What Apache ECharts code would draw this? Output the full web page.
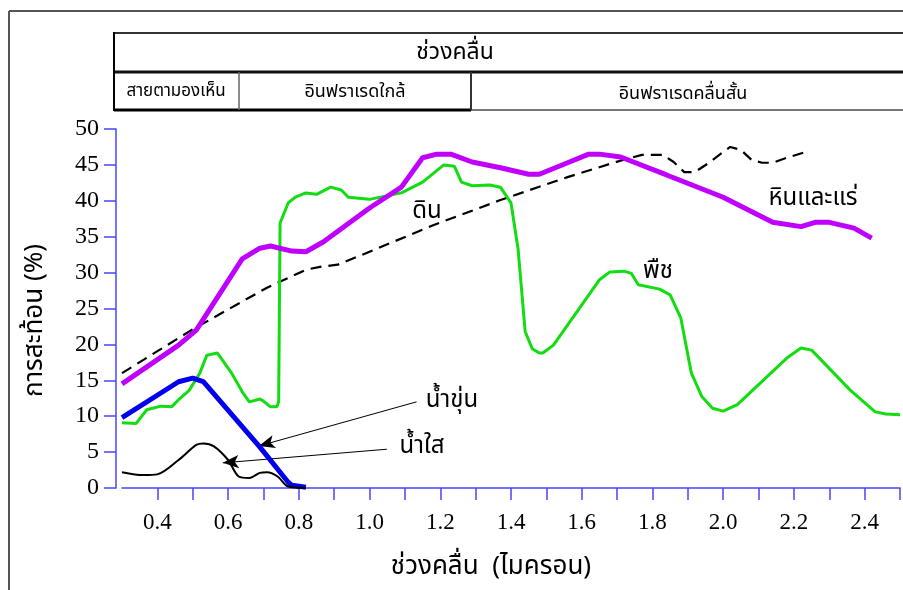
<!DOCTYPE html>
<html>
<head>
<meta charset="utf-8">
<script src="https://cdn.jsdelivr.net/npm/echarts@6/dist/echarts.min.js"></script>
<style>
  html, body { margin: 0; padding: 0; background: #fff; }
  #main { width: 903px; height: 590px; }
</style>
</head>
<body>
<div id="main"></div>
<script>
// ค่าสะท้อน (%) ตามช่วงคลื่น (ไมครอน)
var rockX = [0.30, 0.46, 0.51, 0.64, 0.69, 0.72, 0.78, 0.82, 0.87, 1.00, 1.09, 1.15, 1.19, 1.23, 1.29, 1.37, 1.45, 1.48, 1.56, 1.62, 1.65, 1.71, 1.84, 2.00, 2.14, 2.22, 2.26, 2.30, 2.37, 2.42];
var rockY = [14.5, 19.9, 22.0, 31.9, 33.4, 33.7, 33.0, 32.9, 34.3, 39.0, 41.9, 46.0, 46.5, 46.5, 45.4, 44.6, 43.7, 43.7, 45.3, 46.5, 46.5, 46.1, 43.6, 40.5, 37.0, 36.4, 37.0, 37.0, 36.2, 34.8];

var vegX = [0.30, 0.34, 0.37, 0.41, 0.44, 0.46, 0.49, 0.52, 0.54, 0.57, 0.61, 0.64, 0.66, 0.69, 0.70, 0.72, 0.738, 0.743, 0.747, 0.77, 0.79, 0.82, 0.85, 0.89, 0.92, 0.94, 1.00, 1.09, 1.15, 1.21, 1.24, 1.26, 1.29, 1.34, 1.37, 1.40, 1.42, 1.44, 1.46, 1.48, 1.49, 1.52, 1.65, 1.68, 1.72, 1.74, 1.76, 1.82, 1.85, 1.88, 1.91, 1.94, 1.97, 2.00, 2.04, 2.18, 2.22, 2.25, 2.36, 2.43, 2.46, 2.50];
var vegY = [9.1, 9.0, 10.9, 11.4, 11.3, 12.3, 13.6, 16.0, 18.5, 18.8, 16.0, 13.4, 12.0, 12.4, 12.1, 11.3, 11.3, 12.0, 36.9, 39.7, 40.5, 41.1, 40.9, 41.9, 41.5, 40.5, 40.2, 41.1, 42.6, 45.0, 44.8, 42.6, 42.1, 42.2, 41.9, 39.7, 33.3, 21.8, 19.4, 18.8, 18.8, 19.9, 29.0, 30.1, 30.2, 29.9, 28.3, 27.7, 26.9, 23.7, 16.0, 12.7, 11.1, 10.7, 11.6, 18.1, 19.5, 19.2, 13.6, 10.6, 10.3, 10.2];

var soilX = [0.30, 0.50, 0.71, 0.82, 0.86, 0.91, 0.99, 1.18, 1.37, 1.56, 1.71, 1.77, 1.83, 1.86, 1.89, 1.92, 1.96, 2.00, 2.02, 2.05, 2.08, 2.11, 2.14, 2.18, 2.24];
var soilY = [16.0, 22.1, 27.9, 30.4, 30.8, 31.1, 32.7, 36.6, 40.1, 43.3, 45.6, 46.4, 46.4, 45.4, 44.0, 44.0, 45.3, 46.8, 47.5, 47.1, 45.7, 45.3, 45.3, 46.0, 46.9];

var turbidX = [0.30, 0.46, 0.50, 0.53, 0.69, 0.77, 0.78, 0.82];
var turbidY = [9.8, 14.8, 15.3, 14.8, 5.7, 0.8, 0.4, 0.1];

var clearX = [0.30, 0.36, 0.40, 0.46, 0.51, 0.53, 0.56, 0.60, 0.63, 0.66, 0.69, 0.71, 0.74, 0.77, 0.82];
var clearY = [2.2, 1.8, 1.9, 3.9, 6.0, 6.2, 5.8, 3.9, 1.6, 1.4, 2.1, 2.2, 1.6, 0.2, 0.0];

var bandTitle = 'ช่วงคลื่น';
var bandNames = ['สายตามองเห็น', 'อินฟราเรดใกล้', 'อินฟราเรดคลื่นสั้น'];

function pairs(xs, ys) {
  var out = [];
  for (var i = 0; i < xs.length; i++) out.push([xs[i], ys[i]]);
  return out;
}

var thai = '"Noto Sans Thai", "Noto Sans", "DejaVu Sans", sans-serif';
var serif = '"Liberation Serif", "DejaVu Serif", serif';
var axisBlue = '#4646ff';

var chart = echarts.init(document.getElementById('main'));

var option = {
  backgroundColor: '#ffffff',
  animation: false,
  grid: { left: 122, right: 2, top: 129, bottom: 102 },
  xAxis: {
    type: 'value',
    min: 0.3,
    max: 2.5,
    interval: 0.1,
    offset: 13,
    name: 'ช่วงคลื่น  (ไมครอน)',
    nameLocation: 'middle',
    nameGap: 55,
    nameTextStyle: { fontFamily: thai, fontSize: 26, color: '#000', padding: [0, 40, 0, 0] },
    axisLine: { lineStyle: { color: axisBlue, width: 1.5 } },
    axisTick: { length: 12, lineStyle: { color: axisBlue, width: 1.5 } },
    splitLine: { show: false },
    axisLabel: {
      margin: 10,
      color: '#000',
      fontFamily: serif,
      fontSize: 23,
      showMinLabel: false,
      formatter: function (v) {
        var t = Math.round(v * 10);
        return (t % 2 === 0 && t < 25) ? (t / 10).toFixed(1) : '';
      }
    }
  },
  yAxis: {
    type: 'value',
    min: 0,
    max: 50,
    interval: 5,
    offset: 6,
    name: 'การสะท้อน (%)',
    nameLocation: 'middle',
    nameGap: 66,
    nameTextStyle: { fontFamily: thai, fontSize: 26, color: '#000', padding: [0, 24, 0, 0] },
    axisLine: { show: true, lineStyle: { color: axisBlue, width: 1.5 } },
    axisTick: { show: true, length: 12, lineStyle: { color: axisBlue, width: 1.5 } },
    splitLine: { show: false },
    axisLabel: { margin: 17, color: '#000', fontFamily: serif, fontSize: 24 }
  },
  series: [
    {
      name: 'ดิน',
      type: 'line',
      data: pairs(soilX, soilY),
      showSymbol: false,
      lineStyle: { color: '#000', width: 2.2, type: [11, 7] },
      z: 3
    },
    {
      name: 'พืช',
      type: 'line',
      data: pairs(vegX, vegY),
      showSymbol: false,
      lineStyle: { color: '#11dd11', width: 3 },
      z: 4
    },
    {
      name: 'หินและแร่',
      type: 'line',
      data: pairs(rockX, rockY),
      showSymbol: false,
      lineStyle: { color: '#c000ff', width: 5 },
      z: 5
    },
    {
      name: 'น้ำขุ่น',
      type: 'line',
      data: pairs(turbidX, turbidY),
      showSymbol: false,
      lineStyle: { color: '#0000ee', width: 5 },
      z: 6,
      markLine: {
        silent: true,
        symbol: ['none', 'arrow'],
        symbolSize: [10, 16],
        label: { show: false },
        lineStyle: { color: '#000', width: 1, type: 'solid' },
        data: [
          [{ coord: [1.133, 12.0] }, { coord: [0.687, 5.85] }],
          [{ coord: [1.049, 5.4] }, { coord: [0.585, 3.5] }]
        ]
      }
    },
    {
      name: 'น้ำใส',
      type: 'line',
      data: pairs(clearX, clearY),
      showSymbol: false,
      smooth: 0.3,
      lineStyle: { color: '#000', width: 2 },
      z: 7
    }
  ],
  graphic: [
    // กรอบนอก
    { type: 'line', shape: { x1: 9, y1: 11, x2: 9, y2: 590 }, style: { stroke: '#555', lineWidth: 2 } },
    { type: 'line', shape: { x1: 9, y1: 11, x2: 903, y2: 11 }, style: { stroke: '#555', lineWidth: 2 } },
    // ตารางช่วงคลื่น
    { type: 'line', shape: { x1: 114, y1: 33, x2: 903, y2: 33 }, style: { stroke: '#333', lineWidth: 2 } },
    { type: 'line', shape: { x1: 114, y1: 72, x2: 903, y2: 72 }, style: { stroke: '#111', lineWidth: 3 } },
    { type: 'line', shape: { x1: 114, y1: 110, x2: 471, y2: 110 }, style: { stroke: '#000', lineWidth: 3 } },
    { type: 'line', shape: { x1: 471, y1: 110, x2: 903, y2: 110 }, style: { stroke: '#777', lineWidth: 2 } },
    { type: 'line', shape: { x1: 114, y1: 32, x2: 114, y2: 111 }, style: { stroke: '#000', lineWidth: 2 } },
    { type: 'line', shape: { x1: 239, y1: 72, x2: 239, y2: 110 }, style: { stroke: '#666', lineWidth: 1.5 } },
    { type: 'line', shape: { x1: 471, y1: 72, x2: 471, y2: 110 }, style: { stroke: '#333', lineWidth: 2 } },
    { type: 'text', x: 455, y: 54, style: { text: bandTitle, font: '23px ' + thai, fill: '#000', textAlign: 'center', textVerticalAlign: 'middle' } },
    { type: 'text', x: 176, y: 93, style: { text: bandNames[0], font: '17px ' + thai, fill: '#000', textAlign: 'center', textVerticalAlign: 'middle' } },
    { type: 'text', x: 355, y: 93, style: { text: bandNames[1], font: '18px ' + thai, fill: '#000', textAlign: 'center', textVerticalAlign: 'middle' } },
    { type: 'text', x: 683, y: 95, style: { text: bandNames[2], font: '18px ' + thai, fill: '#000', textAlign: 'center', textVerticalAlign: 'middle' } },
    // ป้ายชื่อเส้น
    { type: 'text', x: 427, y: 213, style: { text: 'ดิน', font: '24px ' + thai, fill: '#000', textAlign: 'center', textVerticalAlign: 'middle' } },
    { type: 'text', x: 813, y: 200, style: { text: 'หินและแร่', font: '24px ' + thai, fill: '#000', textAlign: 'center', textVerticalAlign: 'middle' } },
    { type: 'text', x: 658, y: 273, style: { text: 'พืช', font: '24px ' + thai, fill: '#000', textAlign: 'center', textVerticalAlign: 'middle' } },
    { type: 'text', x: 452, y: 402, style: { text: 'น้ำขุ่น', font: '24px ' + thai, fill: '#000', textAlign: 'center', textVerticalAlign: 'middle' } },
    { type: 'text', x: 422, y: 448, style: { text: 'น้ำใส', font: '24px ' + thai, fill: '#000', textAlign: 'center', textVerticalAlign: 'middle' } }
  ]
};

chart.setOption(option);
</script>
</body>
</html>
